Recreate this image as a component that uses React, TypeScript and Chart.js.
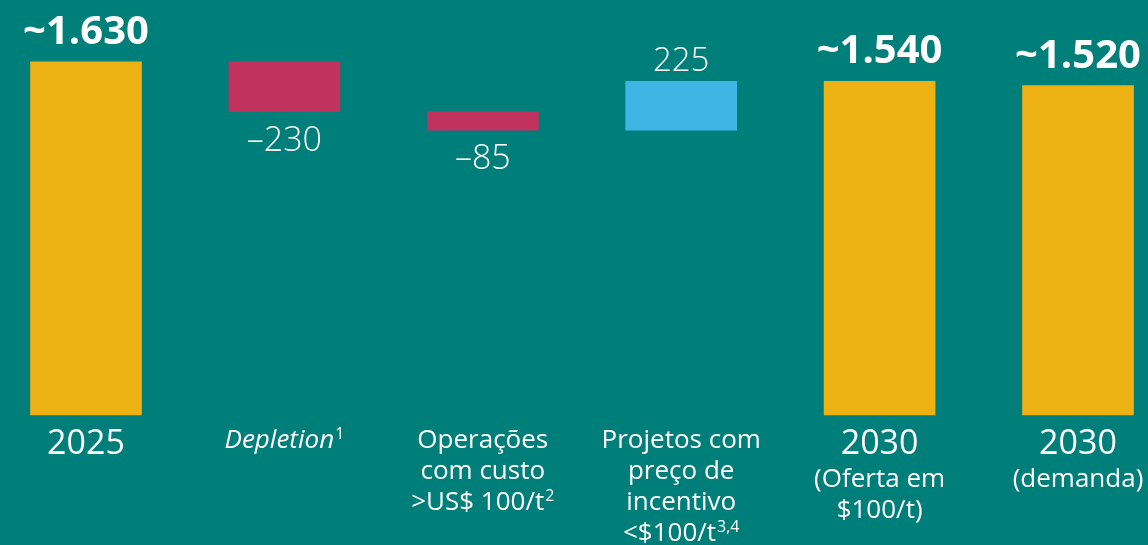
import React, { useEffect, useRef } from 'react';
import { Chart, registerables } from 'chart.js';

Chart.register(...registerables);

const categories = [
  '2025',
  'Depletion',
  'Operações com custo >US$ 100/t',
  'Projetos com preço de incentivo <$100/t',
  '2030 (Oferta em $100/t)',
  '2030 (demanda)',
];
const steps = [1630, -230, -85, 225, 1540, 1520];
const isTotal = [true, false, false, false, true, true];
const categoryTitles = ['2025', '', '', '', '2030', '2030'];
const categorySubLines = [
  [],
  ['Depletion^1'],
  ['Operações', 'com custo', '>US$ 100/t^2'],
  ['Projetos com', 'preço de', 'incentivo', '<$100/t^3,4'],
  ['(Oferta em', '$100/t)'],
  ['(demanda)'],
];
const italicLabels = [false, true, false, false, false, false];

const BG = '#007E79';
const YELLOW = '#EDB114';
const RED = '#C1325F';
const BLUE = '#3EB5E5';
const FONT = '"Open Sans", "Noto Sans", sans-serif';

function fmtThousands(v: number): string {
  const s = String(Math.abs(v));
  return s.replace(/\B(?=(\d{3})+(?!\d))/g, '.');
}

function buildRanges(): [number, number][] {
  let run = 0;
  return steps.map((v, i) => {
    if (isTotal[i]) {
      run = v;
      return [0, v];
    }
    const s = run;
    run += v;
    return [Math.min(s, run), Math.max(s, run)];
  });
}

function valueText(i: number): string {
  const v = steps[i];
  if (isTotal[i]) return '~' + fmtThousands(v);
  return v < 0 ? '–' + fmtThousands(v) : fmtThousands(v);
}

function drawSupLine(ctx: CanvasRenderingContext2D, line: string, cx: number, y: number, size: number, italic: boolean) {
  const parts = line.split('^');
  const main = parts[0];
  const sup = parts[1] || '';
  const style = italic ? 'italic ' : '';
  const mainFont = `${style}400 ${size}px ${FONT}`;
  const supSize = Math.round(size * 0.62);
  const supFont = `400 ${supSize}px ${FONT}`;
  ctx.font = mainFont;
  const mw = ctx.measureText(main).width;
  ctx.font = supFont;
  const sw = sup ? ctx.measureText(sup).width + 1 : 0;
  const x0 = cx - (mw + sw) / 2;
  ctx.textAlign = 'left';
  ctx.textBaseline = 'alphabetic';
  ctx.font = mainFont;
  ctx.fillText(main, x0, y);
  if (sup) {
    ctx.font = supFont;
    ctx.fillText(sup, x0 + mw + 1, y - size * 0.36);
  }
}

const labelPlugin = {
  id: 'waterfallLabels',
  afterDatasetsDraw(chart: any) {
    const ctx: CanvasRenderingContext2D = chart.ctx;
    const meta = chart.getDatasetMeta(0);
    const xScale = chart.scales.x;
    ctx.save();
    ctx.fillStyle = '#FFFFFF';
    meta.data.forEach((el: any, i: number) => {
      const top = Math.min(el.y, el.base);
      const bottom = Math.max(el.y, el.base);
      const text = valueText(i);
      ctx.textAlign = 'center';
      ctx.textBaseline = 'alphabetic';
      if (isTotal[i]) {
        ctx.font = `700 40px ${FONT}`;
        ctx.fillText(text, el.x, top - 18);
      } else if (steps[i] < 0) {
        ctx.font = `300 34px ${FONT}`;
        ctx.fillText(text, el.x, bottom + 39);
      } else {
        ctx.font = `300 33px ${FONT}`;
        ctx.fillText(text, el.x, top - 10);
      }
    });
    categories.forEach((_, i) => {
      const cx = xScale.getPixelForValue(i);
      const title = categoryTitles[i];
      let y = 448;
      if (title) {
        ctx.textAlign = 'center';
        ctx.font = `400 34px ${FONT}`;
        ctx.fillText(title, cx, 454);
        y = 487;
      }
      categorySubLines[i].forEach((line, k) => {
        drawSupLine(ctx, line, cx, y + k * 31, 26, italicLabels[i]);
      });
    });
    ctx.restore();
  },
};

export default function App() {
  const ref = useRef<HTMLCanvasElement | null>(null);
  useEffect(() => {
    document.body.style.margin = '0';
    document.body.style.background = BG;
    const ranges = buildRanges();
    const colors = steps.map((v, i) => (isTotal[i] ? YELLOW : v < 0 ? RED : BLUE));
    const chart = new Chart(ref.current as HTMLCanvasElement, {
      type: 'bar',
      data: {
        labels: categories,
        datasets: [
          {
            data: ranges as any,
            backgroundColor: colors,
            borderWidth: 0,
            barThickness: 111,
            clip: false as any,
          },
        ],
      },
      options: {
        animation: false,
        responsive: false,
        devicePixelRatio: 1,
        layout: { padding: { left: 86, right: 70, top: 25, bottom: 130 } },
        plugins: { legend: { display: false }, tooltip: { enabled: false } },
        scales: {
          x: { display: false, offset: false, grid: { display: false } },
          y: { display: false, min: 0, max: 1800, grid: { display: false } },
        },
      },
      plugins: [labelPlugin],
    });
    return () => chart.destroy();
  }, []);
  return (
    <div style={{ width: 1148, height: 545, background: BG }}>
      <canvas ref={ref} width={1148} height={545} style={{ display: 'block' }} />
    </div>
  );
}
